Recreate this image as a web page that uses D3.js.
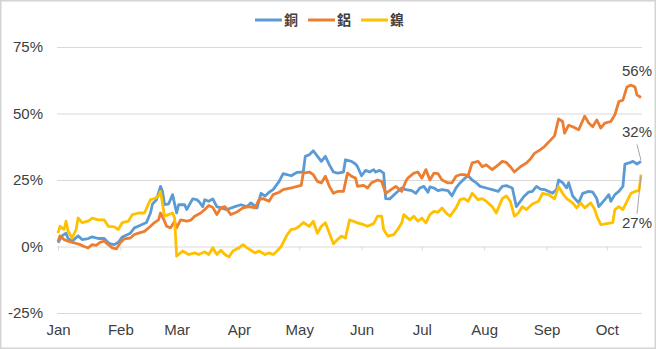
<!DOCTYPE html>
<html>
<head>
<meta charset="utf-8">
<script src="https://cdn.jsdelivr.net/npm/d3@7"></script>
<style>
  body { margin: 0; background: #fff; }
  svg { display: block; font-family: "Liberation Sans", Arial, sans-serif; }
</style>
</head>
<body>
<svg id="chart" width="656" height="349"></svg>
<script>
// days since Jan 1 2021, % change
let copper = [[0,1.4],[2,4],[4,5],[5,3],[7,2],[10,4],[12,2.6],[15,3],[17,3.6],[20,3],[23,3],[25,1.4],[26,1],[28,0.7],[30,1.6],[32,3.6],[36,5],[38,7],[41,8],[44,9],[46,12.6],[47,16],[49,17.6],[51,22.6],[52,20.7],[53,15.7],[55,16],[57,19.5],[59,12.6],[60,15.7],[63,15.7],[64,13.9],[67,17.9],[69,17.6],[70,17],[72,15],[73,17.6],[75,17],[77,17.9],[79,15],[81,14.5],[84,13.9],[88,15],[91,15.7],[94,15],[96,16.4],[99,14.5],[101,20],[103,19],[105,20.4],[107,21.4],[110,24.5],[112,27.4],[116,26.6],[119,27.9],[122,28],[123,33.9],[125,34.5],[127,36],[129,34],[131,32],[133,33.9],[135,30.7],[137,28],[139,27.6],[142,28],[143,32.6],[146,32],[148,31],[149,30],[151,26.6],[153,28.6],[155,28],[157,28.9],[158,28],[160,28.6],[162,27.6],[163,18],[165,17.9],[168,20],[171,22],[173,21.4],[176,21],[178,20],[180,22],[182,22.6],[184,20.4],[185,22.4],[187,22],[189,21],[191,21.4],[194,21],[196,19],[198,22],[200,23.9],[202,25.4],[204,26.6],[206,25],[208,24],[210,22.6],[213,22],[216,21.4],[219,20.7],[221,22.6],[223,22.9],[226,22],[228,15],[230,17],[232,19],[234,20.4],[236,20.7],[238,22.6],[240,21.6],[242,21.4],[246,20],[248,21.4],[249,25],[251,24],[253,22],[254,24],[256,19],[259,16.4],[261,20],[264,20.7],[266,20.4],[268,18],[269,15],[272,17.6],[274,19.5],[275,17],[277,19.5],[279,20.7],[281,22.6],[282,31],[284,31.4],[286,32],[288,31],[290,32]];

let aluminum = [[0,2],[1,4],[3,2.6],[5,2],[8,1.4],[11,0.7],[13,0],[15,-0.5],[17,0.7],[19,0.4],[21,1.6],[23,2],[25,0.7],[27,-0.5],[29,-0.9],[31,1.4],[33,2.9],[36,3.2],[38,4.5],[40,5],[43,5.7],[46,7.6],[48,9],[50,10],[51,12.6],[53,9.5],[54,7.6],[56,7],[58,9.5],[59,7],[61,10],[64,9.5],[66,9.9],[68,11.4],[71,12.6],[73,13.9],[75,15.4],[77,14.7],[79,12],[81,14.5],[83,15],[86,12],[89,13],[92,14.5],[95,15],[98,14.5],[100,17.6],[102,18],[105,17],[107,19.5],[110,20.4],[112,21.4],[116,22],[119,22.6],[121,23],[122,27.6],[125,28],[127,27],[129,24.5],[131,23.9],[133,26.4],[135,22.6],[137,20],[139,20.7],[142,20.7],[144,27.6],[146,26.4],[148,25.7],[149,22.6],[152,23],[154,22],[156,24],[159,25],[161,24.5],[163,20],[165,21],[168,22.6],[171,20.7],[173,24.5],[174,25.7],[177,27.6],[179,28],[181,25.7],[183,28.9],[185,25],[187,27.6],[189,27.4],[191,25],[194,23.9],[196,24],[198,26.4],[200,27],[202,27],[204,26.6],[206,31.4],[209,32],[211,30],[213,30.7],[216,28.9],[219,30.7],[221,32],[223,31.6],[225,30],[227,28],[230,30],[233,31.4],[235,32.9],[237,35],[240,36.4],[242,37.6],[245,40],[247,41.6],[249,48],[251,47],[252,42.6],[254,45.6],[256,45],[259,43.9],[262,49],[264,46.4],[266,45],[268,47.6],[270,44.5],[272,46.4],[275,47],[277,49.5],[279,54.5],[281,55],[283,60],[285,60.7],[287,60],[288,57],[290,56]];

let nickel = [[0,5],[1,7.6],[3,6.4],[4,9.5],[5,5.7],[7,3.2],[9,6.4],[10,10.7],[12,9],[15,9.5],[17,10.7],[20,10],[23,10],[25,7.6],[28,7.4],[30,6.4],[32,9],[35,9.5],[37,12],[40,12.6],[43,12.6],[46,17.6],[48,18],[50,19],[51,20.7],[53,11.4],[55,12],[57,12.6],[58,10.7],[59,-3.6],[62,-1.7],[65,-3],[68,-2.4],[70,-3],[73,-2],[75,-3],[77,-0.5],[79,-3],[81,-1.4],[83,-3],[85,-3.9],[87,-1.7],[90,-0.5],[92,0.7],[94,-0.5],[96,-1.4],[98,-2.4],[100,-1.7],[103,-3],[105,-2.4],[107,-3],[109,-1.7],[111,0],[114,4.5],[116,6.4],[118,6.6],[120,7.6],[122,9],[125,7.6],[127,9.5],[129,5],[131,7.6],[133,8.9],[135,5],[137,1],[139,2.6],[141,3.9],[143,3.2],[145,10],[147,9.5],[149,8.9],[152,8.2],[154,7.6],[157,8.6],[159,11.4],[161,11.4],[162,6.4],[164,3.9],[167,4.5],[169,6.4],[171,8.9],[172,12],[175,10],[177,11.4],[179,9.5],[181,10.7],[183,8.9],[185,12],[187,13.2],[189,12.9],[191,14.5],[193,12.6],[195,11.4],[198,14.5],[200,17.6],[202,18],[204,17],[206,20],[209,17.6],[211,18],[213,17],[216,15],[218,12.6],[221,18],[223,19],[225,17],[227,11.4],[229,12.6],[231,15],[233,13.9],[236,16],[239,17],[241,20],[244,19.5],[247,17.9],[249,22.6],[251,20],[253,18],[256,16.4],[258,14.5],[260,16.4],[262,14.5],[265,16.4],[267,13.9],[268,11.4],[270,8.2],[273,8.6],[276,9],[277,13.9],[279,15],[281,13.9],[283,17],[285,20],[287,20.7],[289,21],[290,27]];

let seriesNames = ['銅', '鋁', '鎳'];
let seriesColors = ['#5B9BD5', '#ED7D31', '#FFC000'];
let yTicks = [-25, 0, 25, 50, 75];

let svg = d3.select('#chart');
let startDate = new Date(2021, 0, 1);
let toDate = d => d3.timeDay.offset(startDate, d);

let x = d3.scaleTime().domain([startDate, toDate(290)]).range([58, 641]);
let y = d3.scaleLinear().domain([-25, 75]).range([313, 47]);

// frame
svg.append('rect')
    .attr('x', 0.75).attr('y', 0.75)
    .attr('width', 654.5).attr('height', 347.5)
    .attr('fill', 'none').attr('stroke', '#d4d4d4').attr('stroke-width', 1.5);

// y axis + grid
let yAxisG = svg.append('g')
    .attr('transform', 'translate(57,0)')
    .call(d3.axisLeft(y).tickValues(yTicks).tickSize(-585).tickPadding(14).tickFormat(d => d + '%'));
yAxisG.select('.domain').remove();
yAxisG.selectAll('line').attr('stroke', '#d9d9d9');
yAxisG.selectAll('text').attr('fill', '#404040').style('font-size', '15px');

// month ticks on the zero line
let tickG = svg.append('g')
    .attr('transform', `translate(0, ${y(0)})`)
    .call(d3.axisBottom(x).ticks(d3.timeMonth.every(1)).tickSize(4).tickFormat(''));
tickG.select('.domain').remove();
tickG.selectAll('line').attr('stroke', '#d9d9d9');

// month labels at the bottom
let xLabelG = svg.append('g')
    .attr('transform', 'translate(0, 321)')
    .call(d3.axisBottom(x).ticks(d3.timeMonth.every(1)).tickSize(0).tickFormat(d3.timeFormat('%b')));
xLabelG.select('.domain').remove();
xLabelG.selectAll('text').attr('fill', '#404040').style('font-size', '15px');

// lines
let line = d3.line()
    .x(d => x(toDate(d[0])))
    .y(d => y(d[1]));

[copper, aluminum, nickel].forEach((data, i) => {
    svg.append('path')
        .datum(data)
        .attr('fill', 'none')
        .attr('stroke', seriesColors[i])
        .attr('stroke-width', 2.8)
        .attr('stroke-linejoin', 'round')
        .attr('d', line);
});

// end labels with leader lines
let endLabels = [
    {data: copper, dy: -24, dx: -4, lead: true},
    {data: aluminum, dy: -22, dx: -4, lead: false},
    {data: nickel, dy: 53, dx: -4, lead: true}
];
endLabels.forEach(l => {
    let last = l.data[l.data.length - 1];
    let ex = x(toDate(last[0])), ey = y(last[1]);
    if(l.lead){
        let up = l.dy < 0;
        svg.append('line')
            .attr('x1', ex).attr('y1', up ? ey - 1 : ey + 1)
            .attr('x2', ex - 4).attr('y2', up ? ey + l.dy + 7 : ey + l.dy - 14)
            .attr('stroke', '#a6a6a6').attr('stroke-width', 1);
    }
    svg.append('text')
        .attr('x', ex + l.dx)
        .attr('y', ey + l.dy)
        .attr('text-anchor', 'middle')
        .attr('fill', '#404040')
        .style('font-size', '15px')
        .text(Math.round(last[1]) + '%');
});

// legend
let legendX = [255, 308, 361];
let legend = svg.append('g');
seriesNames.forEach((name, i) => {
    legend.append('line')
        .attr('x1', legendX[i]).attr('x2', legendX[i] + 27)
        .attr('y1', 20).attr('y2', 20)
        .attr('stroke', seriesColors[i]).attr('stroke-width', 3);
    legend.append('text')
        .attr('x', legendX[i] + 29)
        .attr('y', 25)
        .attr('fill', '#404040')
        .style('font-family', '"Noto Sans CJK TC", sans-serif')
        .style('font-size', '14px')
        .style('font-weight', 'bold')
        .text(name);
});
</script>
</body>
</html>
